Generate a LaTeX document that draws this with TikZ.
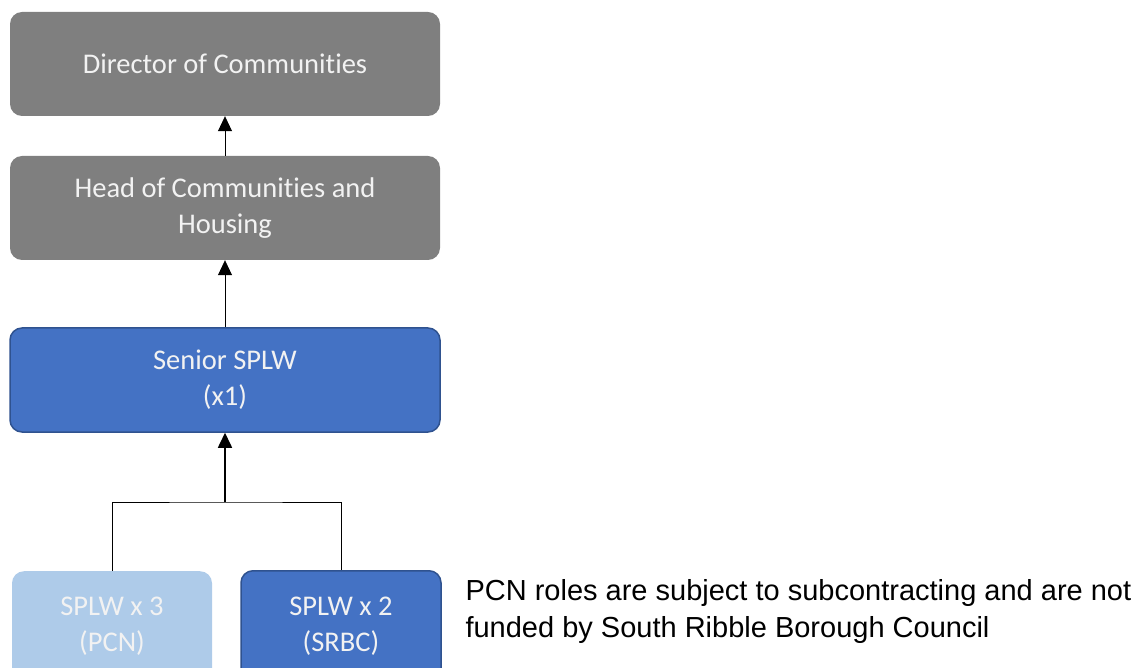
\documentclass[tikz,border=0pt]{standalone}
\usepackage{fontspec}
\setmainfont[RawFeature=-liga]{Carlito}
\newfontfamily\notefont{Liberation Sans}
\usetikzlibrary{arrows.meta, positioning}
\definecolor{headgray}{RGB}{127, 127, 127}
\definecolor{teamblue}{RGB}{68, 114, 196}
\definecolor{edgeblue}{RGB}{47, 82, 143}
\definecolor{pcnblue}{RGB}{174, 203, 233}

\begin{document}
\begin{tikzpicture}[x=1pt, y=-1pt,
        role/.style={rectangle, rounded corners=12pt, minimum width=430pt, minimum height=104pt,
            align=center, text=white!95!black, font=\fontsize{28.5}{36}\selectfont},
        mgr/.style={role, fill=headgray},
        lead/.style={role, fill=teamblue, draw=edgeblue, line width=1.5pt},
        worker/.style={role, minimum width=200pt, minimum height=110pt},
        link/.style={-{Triangle[width=14pt, length=15pt]}, line width=0.8pt}
    ]
        \clip (0, 0) rectangle (1144, 668);
        \useasboundingbox (0, 0) rectangle (1144, 668);

        \node[mgr] (director) at (225, 64) {Director of Communities};
        \node[mgr] (head) at (225, 208) {Head of Communities and\\Housing};
        \node[lead] (senior) at (225, 380) {Senior SPLW\\(x1)};
        \node[worker, fill=pcnblue, anchor=north] (pcn) at (112, 571) {SPLW x 3\\(PCN)};
        \node[worker, fill=teamblue, draw=edgeblue, line width=1.5pt, anchor=north] (srbc) at (341, 570) {SPLW x 2\\(SRBC)};
        \coordinate (split) at (225, 502);

        \draw[link] (head) -- (director);
        \draw[link] (senior) -- (head);
        \draw[link, line width=1.6pt] (split) -- (senior);
        \draw[line width=0.8pt] (pcn.north) |- (split) -| (srbc.north);

        \node[anchor=west, align=left, font=\notefont\fontsize{29}{37}\selectfont] (note) at (462, 612)
            {PCN roles are subject to subcontracting and are not\\funded by South Ribble Borough Council};
    \end{tikzpicture}
\end{document}
